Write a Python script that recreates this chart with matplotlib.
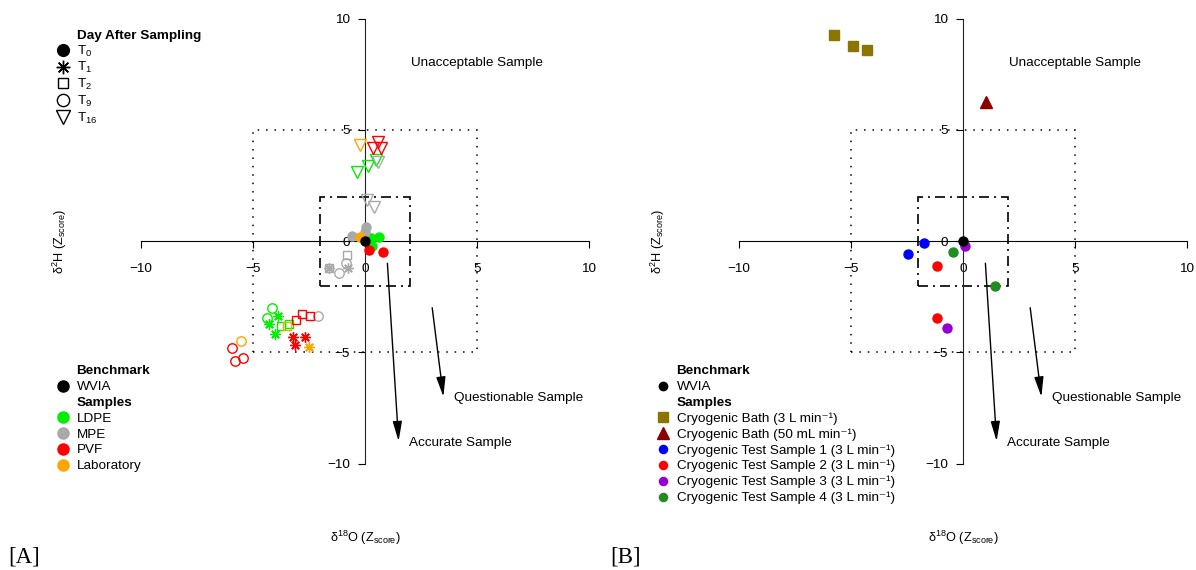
import matplotlib

matplotlib.use("Agg")
import matplotlib.pyplot as plt
from matplotlib.lines import Line2D
from matplotlib.patches import Rectangle

plt.rcParams["font.family"] = ["Liberation Sans", "DejaVu Sans"]
plt.rcParams["mathtext.fontset"] = "custom"
plt.rcParams["mathtext.rm"] = "Liberation Sans"
plt.rcParams["mathtext.it"] = "Liberation Sans:italic"
plt.rcParams["mathtext.bf"] = "Liberation Sans:bold"
plt.rcParams["axes.unicode_minus"] = True

FS = 9.7
MIN1 = "min\u207b\u00b9"

# Panel A: z-scores per storage material, with the day after sampling
days = ["T0", "T1", "T2", "T9", "T16"]
day_labels = ["T$_{0}$", "T$_{1}$", "T$_{2}$", "T$_{9}$", "T$_{16}$"]

ldpe_day = ["T0", "T0", "T0", "T1", "T1", "T1", "T2", "T2", "T9", "T9", "T16", "T16", "T16"]
ldpe_d18o = [0.27, 0.63, 0.30, -3.87, -4.27, -4.02, -3.75, -3.38, -4.14, -4.39, -0.34, 0.15, 0.49]
ldpe_d2h = [0.12, 0.20, -0.23, -3.38, -3.71, -4.19, -3.83, -3.74, -2.99, -3.48, 3.08, 3.35, 3.62]

mpe_day = ["T0", "T0", "T0", "T1", "T1", "T2", "T2", "T9", "T9", "T9", "T16", "T16", "T16"]
mpe_d18o = [-0.57, 0.04, 0.00, -1.60, -0.75, -1.60, -0.80, -2.08, -1.15, -0.85, 0.60, 0.07, 0.40]
mpe_d2h = [0.23, 0.62, 0.40, -1.20, -1.20, -1.20, -0.65, -3.38, -1.45, -1.00, 3.53, 1.85, 1.52]

pvf_day = ["T0", "T0", "T1", "T1", "T1", "T2", "T2", "T2", "T9", "T9", "T9", "T16", "T16", "T16"]
pvf_d18o = [0.18, 0.82, -3.23, -2.68, -3.13, -3.08, -2.83, -2.46, -5.95, -5.43, -5.80, 0.35, 0.60, 0.70]
pvf_d2h = [-0.40, -0.48, -4.31, -4.31, -4.68, -3.53, -3.26, -3.38, -4.79, -5.28, -5.41, 4.20, 4.45, 4.20]

lab_day = ["T0", "T1", "T2", "T9", "T16"]
lab_d18o = [-0.22, -2.49, -3.50, -5.55, -0.22]
lab_d2h = [0.20, -4.76, -3.83, -4.49, 4.32]

wvia_d18o = [0.0]
wvia_d2h = [0.0]

sample_names = ["LDPE", "MPE", "PVF", "Laboratory"]
sample_colors = ["#00EE00", "#A9A9A9", "#FF0000", "#FFA500"]

# Panel B: cryogenic sampling tests
cryo_names = [
    f"Cryogenic Bath (3 L {MIN1})",
    f"Cryogenic Bath (50 mL {MIN1})",
    f"Cryogenic Test Sample 1 (3 L {MIN1})",
    f"Cryogenic Test Sample 2 (3 L {MIN1})",
    f"Cryogenic Test Sample 3 (3 L {MIN1})",
    f"Cryogenic Test Sample 4 (3 L {MIN1})",
]
bath3_d18o = [-5.75, -4.90, -4.29]
bath3_d2h = [9.28, 8.75, 8.57]
bath50_d18o = [1.01]
bath50_d2h = [6.23]
test1_d18o = [-1.75, -2.45]
test1_d2h = [-0.10, -0.60]
test2_d18o = [-1.15, -1.17]
test2_d2h = [-1.11, -3.44]
test3_d18o = [0.07, -0.72]
test3_d2h = [-0.21, -3.89]
test4_d18o = [-0.46, 1.41]
test4_d2h = [-0.51, -2.01]

# Acceptance limits (z-score)
ACCURATE = 2
QUESTIONABLE = 5

day_style = {
    "T0": dict(marker="o", ms=6.5, filled=True),
    "T1": dict(marker=(8, 2, 0), ms=7.5, filled=False),
    "T2": dict(marker="s", ms=6.0, filled=False),
    "T9": dict(marker="o", ms=6.8, filled=False),
    "T16": dict(marker="v", ms=8.0, filled=False),
}

fig = plt.figure(figsize=(11.96, 5.7), dpi=100)

# pixel layout: zero at (365, 241) from top-left of each 598 px panel
PX = 22.4
PY = 22.25
xlim = (-365 / PX, (598 - 365) / PX)
ylim = (-(570 - 241) / PY, 241 / PY)


def setup_axes(ax):
    ax.set_xlim(*xlim)
    ax.set_ylim(*ylim)
    for side in ["top", "right"]:
        ax.spines[side].set_visible(False)
    ax.spines["left"].set_position(("data", 0))
    ax.spines["bottom"].set_position(("data", 0))
    ax.spines["left"].set_bounds(-10, 10)
    ax.spines["bottom"].set_bounds(-10, 10)
    ax.spines["left"].set_color("#222222")
    ax.set_xticks([-10, -5, 0, 5, 10])
    ax.set_yticks([-10, -5, 0, 5, 10])
    ax.tick_params(direction="out", length=5, width=0.8, labelsize=FS)
    ax.tick_params(axis="x", pad=11)
    ax.tick_params(axis="y", pad=6)
    ax.set_facecolor("none")

    q = QUESTIONABLE
    a = ACCURATE
    ax.add_patch(Rectangle((-q, -q), 2 * q, 2 * q, fill=False, lw=1.1,
                           ls=(0, (1, 4.5)), ec="black", zorder=1))
    ax.add_patch(Rectangle((-a, -a), 2 * a, 2 * a, fill=False, lw=1.2,
                           ls=(0, (6, 3, 1.2, 3)), ec="black", zorder=1))

    ax.text(5, 8, "Unacceptable Sample", ha="center", va="center", fontsize=FS)
    ax.annotate("", xy=(3.5, -7), xytext=(3, -3),
                arrowprops=dict(arrowstyle="-|>,head_length=0.6,head_width=0.14",
                                mutation_scale=20, lw=1, color="black",
                                shrinkA=0, shrinkB=0))
    ax.text(6.85, -7.05, "Questionable Sample", ha="center", va="center", fontsize=FS)
    ax.annotate("", xy=(1.5, -9), xytext=(1, -1),
                arrowprops=dict(arrowstyle="-|>,head_length=0.6,head_width=0.14",
                                mutation_scale=20, lw=1, color="black",
                                shrinkA=0, shrinkB=0))
    ax.text(4.25, -9.1, "Accurate Sample", ha="center", va="center", fontsize=FS)

    ax.text(0, -13.35, "δ$^{18}$O (Z$_{\\mathrm{score}}$)", ha="center",
            va="center", fontsize=FS - 0.5)
    ax.text(-13.6, 0, "δ$^{2}$H (Z$_{\\mathrm{score}}$)", ha="center",
            va="center", rotation=90, fontsize=FS - 0.5)


axA = fig.add_axes([0, 0, 0.5, 1])
axB = fig.add_axes([0.5, 0, 0.5, 1])
setup_axes(axA)
setup_axes(axB)

# ---- panel A points
samples = [
    (ldpe_day, ldpe_d18o, ldpe_d2h),
    (mpe_day, mpe_d18o, mpe_d2h),
    (pvf_day, pvf_d18o, pvf_d2h),
    (lab_day, lab_d18o, lab_d2h),
]
for (sday, sx, sy), col in zip(samples, sample_colors):
    for d in days:
        xs = [x for x, dd in zip(sx, sday) if dd == d]
        ys = [y for y, dd in zip(sy, sday) if dd == d]
        st = day_style[d]
        axA.plot(xs, ys, ls="none", marker=st["marker"], ms=st["ms"],
                 mfc=col if st["filled"] else "none", mec=col, mew=1.0,
                 clip_on=False, zorder=3)
axA.plot(wvia_d18o, wvia_d2h, ls="none", marker="o", ms=6.5, color="black", zorder=4)

hdr = Line2D([], [], ls="none")
day_handles = [hdr]
for d in days:
    st = day_style[d]
    day_handles.append(Line2D([], [], ls="none", marker=st["marker"], ms=st["ms"] * 1.3,
                              mfc="black" if st["filled"] else "none", mec="black", mew=1.0))
leg1 = axA.legend(day_handles, ["Day After Sampling"] + day_labels, loc="upper left",
                  bbox_to_anchor=(56 / 598, 1 - 29.5 / 570), frameon=False, borderpad=0,
                  borderaxespad=0, handlelength=1.0, handletextpad=0.53,
                  labelspacing=0.12, fontsize=FS)
leg1.get_texts()[0].set_fontweight("bold")
axA.add_artist(leg1)

samp_handles = [hdr, Line2D([], [], ls="none", marker="o", ms=8, color="black"), hdr]
samp_handles += [Line2D([], [], ls="none", marker="o", ms=8, color=c) for c in sample_colors]
leg2 = axA.legend(samp_handles, ["Benchmark", "WVIA", "Samples"] + sample_names,
                  loc="upper left", bbox_to_anchor=(56 / 598, 1 - 365 / 570),
                  frameon=False, borderpad=0, borderaxespad=0, handlelength=1.0,
                  handletextpad=0.53, labelspacing=0.25, fontsize=FS)
leg2.get_texts()[0].set_fontweight("bold")
leg2.get_texts()[2].set_fontweight("bold")

# ---- panel B points
cryo_series = [
    (bath3_d18o, bath3_d2h, "s", "#8B7500", 7.2),
    (bath50_d18o, bath50_d2h, "^", "#8B0000", 8.5),
    (test1_d18o, test1_d2h, "o", "#0000FF", 6.5),
    (test2_d18o, test2_d2h, "o", "#FF0000", 6.5),
    (test3_d18o, test3_d2h, "o", "#9400D3", 6.5),
    (test4_d18o, test4_d2h, "o", "#228B22", 6.5),
]
cryo_handles = [hdr, Line2D([], [], ls="none", marker="o", ms=6, color="black"), hdr]
for xs, ys, mk, col, ms in cryo_series:
    axB.plot(xs, ys, ls="none", marker=mk, ms=ms, color=col, clip_on=False, zorder=3)
    cryo_handles.append(Line2D([], [], ls="none", marker=mk,
                               ms=ms * (0.95 if mk != "o" else 0.9), color=col))
axB.plot(wvia_d18o, wvia_d2h, ls="none", marker="o", ms=6.5, color="black", zorder=4)

leg3 = axB.legend(cryo_handles, ["Benchmark", "WVIA", "Samples"] + cryo_names,
                  loc="upper left", bbox_to_anchor=(58 / 598, 1 - 365 / 570),
                  frameon=False, borderpad=0, borderaxespad=0, handlelength=1.0,
                  handletextpad=0.53, labelspacing=0.25, fontsize=FS)
leg3.get_texts()[0].set_fontweight("bold")
leg3.get_texts()[2].set_fontweight("bold")

fig.text(8 / 1196, 8 / 570, "[A]", family="Liberation Serif", fontsize=16.5, va="baseline")
fig.text(610 / 1196, 8 / 570, "[B]", family="Liberation Serif", fontsize=16.5, va="baseline")

fig.savefig("out.png", dpi=100)
